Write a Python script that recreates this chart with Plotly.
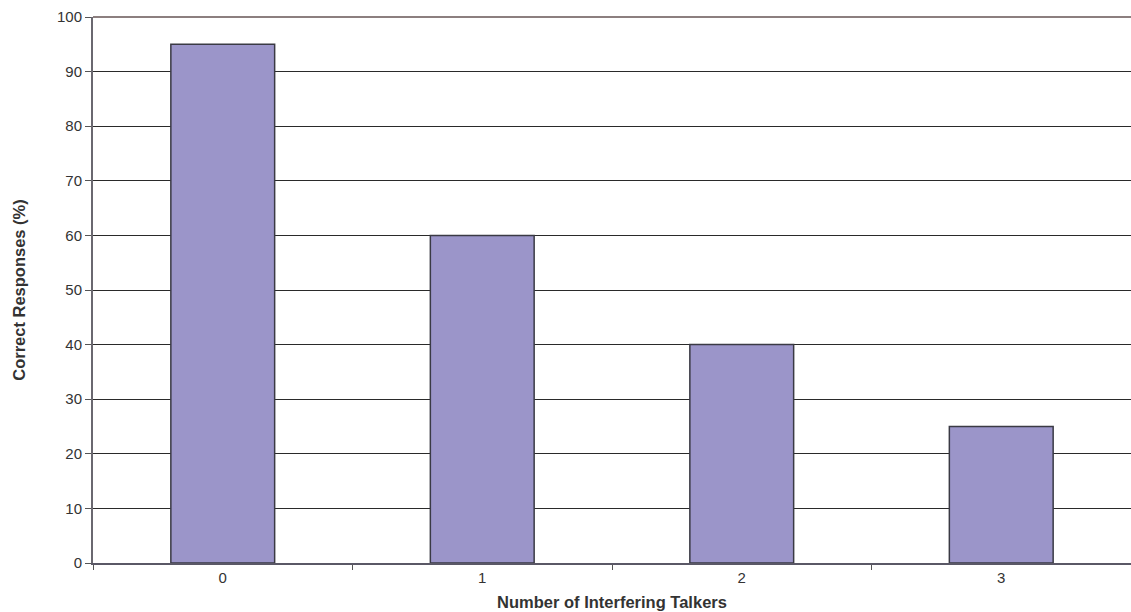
import plotly.graph_objects as go

categories = ["0", "1", "2", "3"]
values = [95, 60, 40, 25]
y_ticks = [0, 10, 20, 30, 40, 50, 60, 70, 80, 90, 100]

fig = go.Figure()
fig.add_trace(go.Bar(
    x=categories, y=values,
    marker=dict(color="#9b95c9", line=dict(color="#3a3a44", width=1.5)),
    width=0.4,
))

font = "Liberation Sans, Arial, sans-serif"
fig.update_layout(
    width=1131, height=612,
    margin=dict(l=93, r=0, t=17, b=49),
    paper_bgcolor="white", plot_bgcolor="white",
    showlegend=False,
    font=dict(family=font, size=15, color="#333333"),
    bargap=0.6,
    xaxis=dict(
        type="category",
        tickson="boundaries",
        ticks="outside", ticklen=5, tickcolor="#555",
        showgrid=False,
        showline=True, linecolor="#5a5866", linewidth=2,
        tickfont=dict(size=15, color="#333"),
        automargin=False,
        title=dict(text="<b>Number of Interfering Talkers</b>", font=dict(size=16.5, color="#333"), standoff=11),
    ),
    yaxis=dict(
        range=[0, 100], tickvals=y_ticks,
        ticks="outside", ticklen=6, tickcolor="#555",
        showgrid=True, gridcolor="#2a2a2a", gridwidth=1,
        showline=True, linecolor="#6a6870", linewidth=2,
        zeroline=False,
        automargin=False,
        tickfont=dict(size=15, color="#333"),
        title=dict(text="<b>Correct Responses (%)</b>", font=dict(size=16.5, color="#333"), standoff=27),
    ),
    shapes=[dict(type="line", xref="paper", yref="paper", x0=0, x1=1, y0=1, y1=1,
                 line=dict(color="#8c7f7f", width=2))],
)

fig.write_html("out.html", config={"displayModeBar": False},
               post_script="document.body.style.margin='0';")
